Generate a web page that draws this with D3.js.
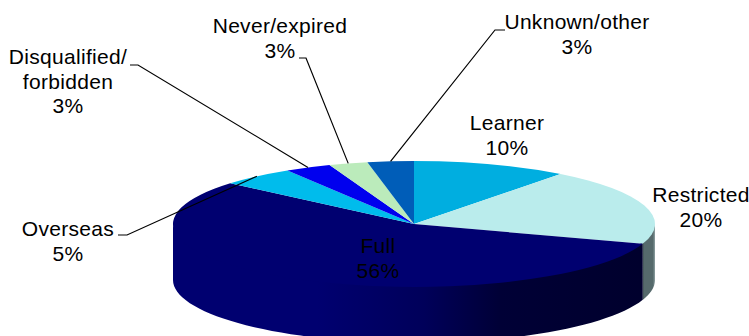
<!DOCTYPE html>
<html><head><meta charset="utf-8"><script src="https://cdn.jsdelivr.net/npm/d3@7"></script>
<style>html,body{margin:0;padding:0;background:#fff}svg{display:block}</style></head><body>
<script>
const categories=["Learner","Restricted","Full","Overseas","Disqualified/forbidden","Never/expired","Unknown/other"];
const values=[10.4,19.7,56.1,5,3.1,2.6,3.1];
const colors=["#00AEE0","#BAECEC","#000070","#00BCEC","#0000EE","#BBEBBB","#005DB8"];
const labelLines=[["Learner","10%"],["Restricted","20%"],["Full","56%"],["Overseas","5%"],["Disqualified/","forbidden","3%"],["Never/expired","3%"],["Unknown/other","3%"]];
const labelAnchors=[[507,130],[701,202],[378,253],[68,236],[68,64],[280,33],[577,29]];
const leaderElbows=[null,null,null,[[118,235],[127,235]],[[130,65],[138,65]],[[299,58],[306,58]],[[505,30],[495,30]]];

const W=749,H=336,cx=414,cy=224,rx=241,ry=63,depth=56,fontSize=21,lineH=24.6;
const svg=d3.select("body").append("svg").attr("width",W).attr("height",H);
const defs=svg.append("defs");
const g1=defs.append("linearGradient").attr("id","fullSide").attr("gradientUnits","userSpaceOnUse")
 .attr("x1",cx-rx).attr("x2",cx+rx).attr("y1",0).attr("y2",0);
[[0,"#000070"],[0.3,"#000070"],[0.52,"#00005a"],[0.68,"#000036"],[1,"#00002c"]].forEach(s=>g1.append("stop").attr("offset",s[0]).attr("stop-color",s[1]));
const g2=defs.append("linearGradient").attr("id","restSide").attr("gradientUnits","userSpaceOnUse")
 .attr("x1",cx+rx-14).attr("x2",cx+rx).attr("y1",0).attr("y2",0);
[[0,"#2d3c40"],[0.25,"#566a6c"],[0.85,"#566a6c"],[1,"#8fa2a3"]].forEach(s=>g2.append("stop").attr("offset",s[0]).attr("stop-color",s[1]));

const pie=d3.pie().value(d=>d).sort(null);
const arcs=pie(values);
const pt=(a,dz=0)=>[cx+rx*Math.sin(a),cy-ry*Math.cos(a)+dz];
const line=d3.line();
const sideFill={1:"url(#restSide)",2:"url(#fullSide)"};
// side walls (front half only); upper edge tucked under the top face
arcs.forEach((d,i)=>{
  const a0=Math.max(d.startAngle,Math.PI/2),a1=Math.min(d.endAngle,Math.PI*1.5);
  if(a1<=a0)return;
  const as=d3.range(0,61).map(k=>a0+(a1-a0)*k/60);
  const pts=as.map(a=>pt(a,-2)).concat(as.slice().reverse().map(a=>pt(a,depth)));
  svg.append("path").attr("d",line(pts)+"Z").attr("fill",sideFill[i]||colors[i]);
});
// top faces
const arc=d3.arc().innerRadius(0).outerRadius(rx);
svg.append("g").attr("transform",`translate(${cx},${cy}) scale(1,${ry/rx})`)
 .selectAll("path").data(arcs).join("path").attr("d",arc).attr("fill",(d,i)=>colors[i]);
// leader lines
arcs.forEach((d,i)=>{
  if(!leaderElbows[i])return;
  const a=(d.startAngle+d.endAngle)/2;
  svg.append("path").attr("d",line([...leaderElbows[i],pt(a)])).attr("fill","none").attr("stroke","#000").attr("stroke-width",1.2);
});
// labels
labelLines.forEach((ls,i)=>{
  const t=svg.append("text").attr("text-anchor","middle").attr("font-family","Liberation Sans, Arial, sans-serif").attr("font-size",fontSize).attr("letter-spacing",0.3).attr("fill","#000");
  ls.forEach((s,j)=>t.append("tspan").attr("x",labelAnchors[i][0]).attr("y",labelAnchors[i][1]+j*lineH).text(s));
});
</script></body></html>
